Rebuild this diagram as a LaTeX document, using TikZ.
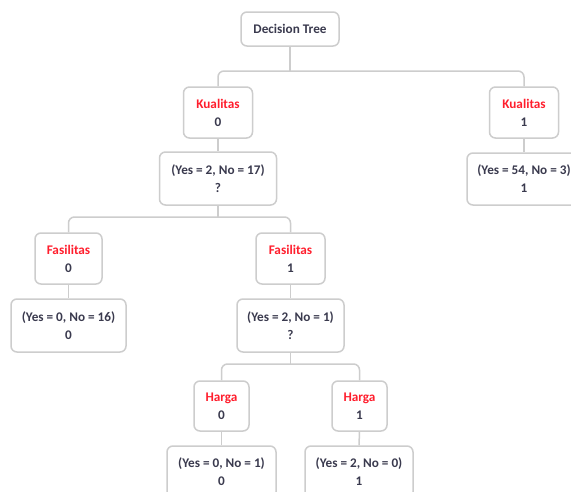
\documentclass[tikz,border=0pt]{standalone}
\usepackage{fontspec}
\setmainfont{Carlito}
\usetikzlibrary{positioning}
\definecolor{boxline}{HTML}{CDCDCD}
\definecolor{inktext}{HTML}{3A3A4E}
\definecolor{attrred}{HTML}{FF1E2D}
\begin{document}
\begin{tikzpicture}[x=1pt,y=-1pt,
  treebox/.style={draw=boxline, line width=1.5pt, rounded corners=6pt, fill=white,
    align=center, inner xsep=0pt, inner ysep=0pt, text=inktext,
    font=\fontsize{13.2}{18}\selectfont\bfseries},
  link/.style={draw=boxline, line width=1.5pt, rounded corners=6pt}]
\useasboundingbox (0,0) rectangle (571,491);
\clip (0,0) rectangle (571,491);
\fill[white] (0,0) rectangle (571,491);

% nodes: minimum size gives each box its width and height
\node[treebox, minimum width=98pt, minimum height=34pt] (root) at (290,29) {Decision Tree};

\node[treebox, minimum width=69pt, minimum height=51pt] (kual0) at (218,112.5) {\textcolor{attrred}{Kualitas}\\0};
\node[treebox, minimum width=69pt, minimum height=51pt] (kual1) at (524,112.5) {\textcolor{attrred}{Kualitas}\\1};

\node[treebox, minimum width=117pt, minimum height=53pt] (n17) at (218,178.5) {(Yes = 2, No = 17)\\?};
\node[treebox, minimum width=114pt, minimum height=52pt] (n54) at (524,179) {(Yes = 54, No = 3)\\1};

\node[treebox, minimum width=67pt, minimum height=51pt] (fas0) at (68.5,258.5) {\textcolor{attrred}{Fasilitas}\\0};
\node[treebox, minimum width=69pt, minimum height=51pt] (fas1) at (290.5,258.5) {\textcolor{attrred}{Fasilitas}\\1};

\node[treebox, minimum width=115pt, minimum height=53pt] (n16) at (68.5,325.5) {(Yes = 0, No = 16)\\0};
\node[treebox, minimum width=107pt, minimum height=53pt] (n21) at (290.5,325.5) {(Yes = 2, No = 1)\\?};

\node[treebox, minimum width=55pt, minimum height=50pt] (har0) at (221.5,406) {\textcolor{attrred}{Harga}\\0};
\node[treebox, minimum width=55pt, minimum height=50pt] (har1) at (359.5,406) {\textcolor{attrred}{Harga}\\1};

\node[treebox, minimum width=109pt, minimum height=52pt] (n01) at (221.5,472) {(Yes = 0, No = 1)\\0};
\node[treebox, minimum width=108pt, minimum height=52pt] (n20) at (359,472) {(Yes = 2, No = 0)\\1};

% bus levels for the branching connectors
\coordinate (busA) at (292,71);
\coordinate (busB) at (219,217);
\coordinate (busC) at (292,364);

% connectors
\draw[link] (root.south) -- (root.south |- busA);
\draw[link] (kual0.north) |- (busA) -| (kual1.north);
\draw[link] (kual0.south) -- (n17.north);
\draw[link] (kual1.south) -- (n54.north);
\draw[link] (n17.south) -- (n17.south |- busB);
\draw[link] (fas0.north) |- (busB) -| (fas1.north);
\draw[link] (fas0.south) -- (n16.north);
\draw[link] (fas1.south) -- (n21.north);
\draw[link] (n21.south) -- (n21.south |- busC);
\draw[link] (har0.north) |- (busC) -| (har1.north);
\draw[link] (har0.south) -- (n01.north);
\draw[link] (har1.south) -- (n20.north);
\end{tikzpicture}
\end{document}
